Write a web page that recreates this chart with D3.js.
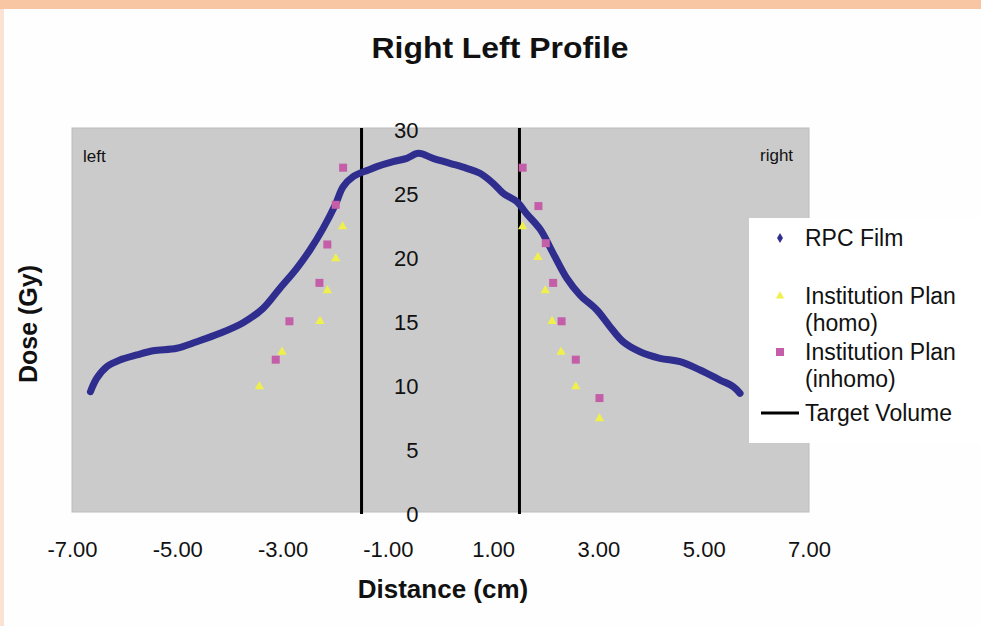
<!DOCTYPE html>
<html>
<head>
<meta charset="utf-8">
<script type="text/javascript" src="https://cdnjs.cloudflare.com/ajax/libs/d3/7.8.5/d3.min.js"></script>
<style>
    body { margin: 0; background: #ffffff; }
    svg text { font-family: "Liberation Sans", Arial, sans-serif; fill: #111; }
</style>
</head>
<body>
<div id="profile-viewer-id"></div>

<script type="text/javascript">

    var filmDistance = [-6.65, -6.53, -6.34, -6.09, -5.77, -5.46, -5.01, -4.63, -4.19, -3.75, -3.37, -3.05,
        -2.73, -2.48, -2.23, -2.00, -1.85, -1.66, -1.37, -1.21, -0.90, -0.64, -0.42, -0.14, 0.18, 0.50,
        0.75, 1.00, 1.19, 1.45, 1.64, 1.89, 2.14, 2.40, 2.65, 2.97, 3.22, 3.47, 3.79, 4.17, 4.55, 4.93,
        5.31, 5.56, 5.69];
    var filmDose = [9.4, 10.45, 11.35, 11.88, 12.27, 12.6, 12.79, 13.3, 13.96, 14.79, 15.91, 17.48,
        19.04, 20.47, 22.16, 23.98, 25.41, 26.2, 26.72, 26.98, 27.37, 27.63, 28.02, 27.63, 27.24, 26.85,
        26.46, 25.68, 24.9, 24.24, 23.28, 22.1, 20.21, 18.26, 16.95, 15.78, 14.48, 13.3, 12.52, 12.01, 11.74, 11.09,
        10.31, 9.79, 9.27];

    // institution plan (homo)
    var homoDistance = [-1.86, -1.99, -2.15, -2.29, -3.01, -3.44, 1.56, 1.85, 1.99, 2.12, 2.29, 2.57, 3.02];
    var homoDose = [22.3, 19.8, 17.3, 14.9, 12.5, 9.8, 22.3, 19.9, 17.3, 14.9, 12.5, 9.8, 7.3];

    // institution plan (inhomo)
    var inhomoDistance = [-1.85, -1.99, -2.15, -2.30, -2.87, -3.13, 1.56, 1.86, 2.00, 2.14, 2.30, 2.57, 3.02];
    var inhomoDose = [26.9, 24.0, 20.9, 17.9, 14.9, 11.9, 26.9, 23.9, 21.0, 17.9, 14.9, 11.9, 8.9];

    var targetEdges = [-1.5, 1.5];

    var xTicks = [-7, -5, -3, -1, 1, 3, 5, 7];
    var yTicks = [0, 5, 10, 15, 20, 25, 30];

    var seriesNames = ["RPC Film", "Institution Plan|(homo)", "Institution Plan|(inhomo)", "Target Volume"];

    // setup dimensions, svg and scales
    var width = 981;
    var height = 626;
    var plot = {left: 72, right: 809, top: 128, bottom: 512};

    var colFilm = "#2f2e8f", colHomo = "#f0f04c", colInhomo = "#c45ea8";

    var svg = d3.select("#profile-viewer-id").append("svg")
        .attr("width", width).attr("height", height);

    var x = d3.scaleLinear().domain([-7, 7]).range([plot.left, plot.right]);
    var y = d3.scaleLinear().domain([0, 30]).range([plot.bottom, plot.top]);

    // page frame (orange strip on top, faint one on the left)
    svg.append("rect").attr("x", 0).attr("y", 0).attr("width", width).attr("height", height).attr("fill", "#fefefe");
    svg.append("rect").attr("x", 0).attr("y", 0).attr("width", 4).attr("height", height).attr("fill", "#fbe3d4");
    svg.append("rect").attr("x", 0).attr("y", 0).attr("width", width).attr("height", 9).attr("fill", "#f8c6a3");

    svg.append("text").attr("x", 500).attr("y", 58)
        .attr("text-anchor", "middle").attr("font-size", 30).attr("font-weight", "bold")
        .attr("textLength", 257).attr("lengthAdjust", "spacingAndGlyphs")
        .text("Right Left Profile");

    // plot area
    svg.append("rect")
        .attr("x", plot.left).attr("y", plot.top)
        .attr("width", plot.right - plot.left).attr("height", plot.bottom - plot.top)
        .attr("fill", "#cbcbcb").attr("stroke", "#bcbcbc").attr("stroke-width", 1);

    svg.append("text").attr("x", 83).attr("y", 162).attr("font-size", 17).text("left");
    svg.append("text").attr("x", 760).attr("y", 161).attr("font-size", 17).text("right");

    // y axis sits at distance 0, Excel style
    var yAxis = svg.append("g").attr("transform", "translate(" + x(0) + ",0)")
        .call(d3.axisLeft(y).tickValues(yTicks).tickSize(0).tickPadding(22));
    yAxis.select(".domain").remove();
    yAxis.selectAll("text").attr("font-size", 22).attr("font-family", null).attr("dy", "0.45em");

    var xAxis = svg.append("g").attr("transform", "translate(0," + plot.bottom + ")")
        .call(d3.axisBottom(x).tickValues(xTicks).tickSize(0).tickPadding(29)
            .tickFormat(function (d) { return d.toFixed(2); }));
    xAxis.select(".domain").remove();
    xAxis.selectAll("text").attr("font-size", 22).attr("font-family", null);

    svg.append("text").attr("x", 443).attr("y", 598)
        .attr("text-anchor", "middle").attr("font-size", 26).attr("font-weight", "bold")
        .text("Distance (cm)");
    svg.append("text").attr("transform", "translate(37,324) rotate(-90)")
        .attr("text-anchor", "middle").attr("font-size", 25).attr("font-weight", "bold")
        .text("Dose (Gy)");

    // target volume edges
    svg.selectAll("line.target").data(targetEdges).enter().append("line")
        .attr("class", "target")
        .attr("x1", function (d) { return x(d); }).attr("x2", function (d) { return x(d); })
        .attr("y1", plot.top).attr("y2", plot.bottom + 2)
        .attr("stroke", "#000").attr("stroke-width", 3);

    // film curve (dense diamond markers in the original -> thick line)
    var film = filmDistance.map(function (d, i) { return [d, filmDose[i]]; });
    var line = d3.line()
        .x(function (d) { return x(d[0]); })
        .y(function (d) { return y(d[1]); })
        .curve(d3.curveCatmullRom);
    svg.append("path").datum(film).attr("d", line)
        .attr("fill", "none").attr("stroke", colFilm).attr("stroke-width", 7)
        .attr("stroke-linejoin", "round").attr("stroke-linecap", "round");

    // plan points
    var tri = d3.symbol().type(d3.symbolTriangle).size(38);
    svg.selectAll("path.homo").data(homoDistance).enter().append("path")
        .attr("class", "homo").attr("d", tri)
        .attr("transform", function (d, i) { return "translate(" + x(d) + "," + y(homoDose[i]) + ")"; })
        .attr("fill", colHomo);

    svg.selectAll("rect.inhomo").data(inhomoDistance).enter().append("rect")
        .attr("class", "inhomo")
        .attr("x", function (d) { return x(d) - 4; })
        .attr("y", function (d, i) { return y(inhomoDose[i]) - 4; })
        .attr("width", 8).attr("height", 8)
        .attr("fill", colInhomo);

    // legend (tightly packed like the original, wrapped names)
    var legend = svg.append("g");
    legend.append("rect").attr("x", 749).attr("y", 218).attr("width", 240).attr("height", 225)
        .attr("fill", "#ffffff");

    var legendY = [238, 296, 352, 413];
    var legendFont = 23, legendLead = 27;
    seriesNames.forEach(function (name, i) {
        var lines = name.split("|");
        lines.forEach(function (t, j) {
            legend.append("text").attr("x", 805).attr("y", legendY[i] + j * legendLead + 8)
                .attr("font-size", legendFont).text(t);
        });
    });
    legend.append("path").attr("d", d3.symbol().type(d3.symbolDiamond).size(30))
        .attr("transform", "translate(780," + legendY[0] + ")").attr("fill", colFilm);
    legend.append("path").attr("d", d3.symbol().type(d3.symbolTriangle).size(30))
        .attr("transform", "translate(780," + legendY[1] + ")").attr("fill", colHomo);
    legend.append("rect").attr("x", 776).attr("y", legendY[2] - 4).attr("width", 8).attr("height", 8)
        .attr("fill", colInhomo);
    legend.append("line").attr("x1", 761).attr("x2", 799)
        .attr("y1", legendY[3]).attr("y2", legendY[3])
        .attr("stroke", "#000").attr("stroke-width", 3);

</script>
</body>
</html>
